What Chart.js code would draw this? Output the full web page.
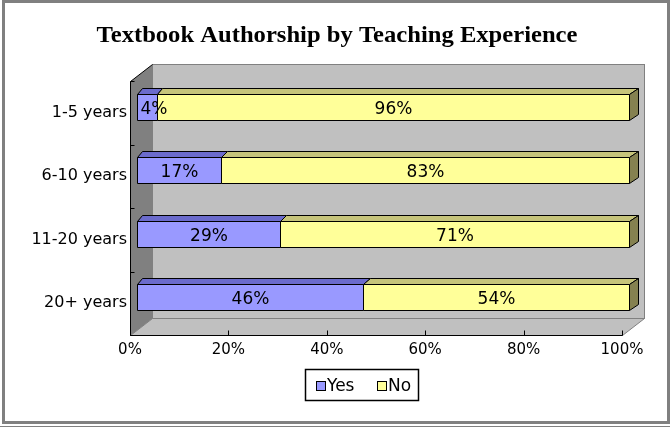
<!DOCTYPE html>
<html lang="en">
<head>
<meta charset="UTF-8">
<title>Textbook Authorship by Teaching Experience</title>
<script src="https://cdn.jsdelivr.net/npm/chart.js"></script>
<style>
  body { margin: 0; background: #fff; }
  .frame { position: absolute; left: 2px; top: 0; width: 668px; height: 424px; box-sizing: border-box; border: 3px solid #808080; }
  .rule { position: absolute; left: 0; top: 426px; width: 670px; height: 1px; background: #808080; }
  canvas { position: absolute; left: 0; top: 0; }
</style>
</head>
<body>
<div class="frame"></div>
<div class="rule"></div>
<canvas id="chart" width="670" height="427"></canvas>
<script>
  // data
  const chartTitle = 'Textbook Authorship by Teaching Experience';
  const categories = ['1-5 years', '6-10 years', '11-20 years', '20+ years'];
  const yesPct = [4, 17, 29, 46];
  const noPct = [96, 83, 71, 54];
  const seriesNames = ['Yes', 'No'];
  const tickStep = 20;

  // 3D look: wall depth, bar offset from the front axis plane, bar depth
  const wallDX = 22, wallDY = -17;
  const barDX = 7, barDY = -6;
  const faceDY = -6;
  const legendBox = { x: 305, y: 369, w: 113, h: 31, items: [316, 377] };

  const px = v => Math.round(v) + 0.5;

  function poly(ctx, pts, fill, stroke) {
    ctx.beginPath();
    ctx.moveTo(pts[0][0], pts[0][1]);
    for (let i = 1; i < pts.length; i++) ctx.lineTo(pts[i][0], pts[i][1]);
    ctx.closePath();
    if (fill) { ctx.fillStyle = fill; ctx.fill(); }
    if (stroke) { ctx.strokeStyle = stroke; ctx.lineWidth = 1; ctx.stroke(); }
  }

  // the reference title is a little wider than Liberation Serif
  function stretchedText(ctx, text, x, y, sx) {
    ctx.save();
    ctx.translate(x, y);
    ctx.scale(sx, 1);
    ctx.fillText(text, 0, 0);
    ctx.restore();
  }

  const threeD = {
    id: 'threeD',
    beforeDraw(chart) {
      const { ctx, chartArea: a } = chart;
      const L = px(a.left), R = px(a.right), T = px(a.top), B = px(a.bottom);
      ctx.save();
      // title
      ctx.font = 'bold 23px "Liberation Serif"';
      ctx.fillStyle = '#000';
      ctx.textAlign = 'center';
      ctx.textBaseline = 'alphabetic';
      stretchedText(ctx, chartTitle, 337, 42, 1.07);
      // back wall
      ctx.fillStyle = '#C0C0C0';
      ctx.fillRect(L + wallDX, T + wallDY, R - L, B - T);
      ctx.strokeStyle = '#808080';
      ctx.lineWidth = 1;
      ctx.strokeRect(L + wallDX, T + wallDY, R - L, B - T);
      // floor
      poly(ctx, [[L, B], [L + wallDX, B + wallDY], [R + wallDX, B + wallDY], [R, B]], '#C0C0C0', '#808080');
      // left wall
      poly(ctx, [[L, T], [L + wallDX, T + wallDY], [L + wallDX, B + wallDY], [L, B]], '#808080', null);
      ctx.strokeStyle = '#000';
      ctx.beginPath();
      ctx.moveTo(L, T);
      ctx.lineTo(L + wallDX, T + wallDY);
      ctx.stroke();
      ctx.restore();
    },
    beforeDatasetsDraw(chart) {
      const { ctx, chartArea: a } = chart;
      const dxAt = x => 5 + 3.5 * (x - a.left) / a.width;
      const sets = chart.data.datasets;
      const labels = [];
      ctx.save();
      categories.forEach((c, i) => {
        sets.forEach((ds, di) => {
          const bar = chart.getDatasetMeta(di).data[i];
          const p = bar.getProps(['x', 'y', 'base', 'height'], true);
          const L = px(Math.min(p.x, p.base) + barDX);
          const R = px(Math.max(p.x, p.base) + barDX);
          const T = px(p.y - p.height / 2 + barDY);
          const B = px(p.y + p.height / 2 + barDY);
          const dl = Math.round(dxAt(L)), dr = Math.round(dxAt(R));
          poly(ctx, [[L, T], [R, T], [R, B], [L, B]], ds.backgroundColor, '#000');
          poly(ctx, [[L, T], [L + dl, T + faceDY], [R + dr, T + faceDY], [R, T]], ds.topColor, '#000');
          if (di === sets.length - 1) {
            poly(ctx, [[R, T], [R + dr, T + faceDY], [R + dr, B + faceDY], [R, B]], ds.sideColor, '#000');
          }
          labels.push({ text: ds.data[i] + '%', L, R, y: (T + B) / 2 + 2 });
        });
      });
      // value labels on the front faces, after all bars
      ctx.font = '17px "DejaVu Sans"';
      ctx.fillStyle = '#000';
      ctx.textAlign = 'center';
      ctx.textBaseline = 'middle';
      labels.forEach(l => {
        const w = ctx.measureText(l.text).width;
        const cx = Math.max((l.L + l.R) / 2, l.L + 3 + w / 2);
        ctx.fillText(l.text, cx, l.y);
      });
      ctx.restore();
      return false;
    },
    afterDraw(chart) {
      const { ctx, chartArea: a, scales } = chart;
      const L = px(a.left), R = px(a.right), T = px(a.top), B = px(a.bottom);
      ctx.save();
      ctx.strokeStyle = '#000';
      ctx.lineWidth = 1;
      ctx.beginPath();
      ctx.moveTo(L, T);
      ctx.lineTo(L, B);
      ctx.lineTo(R, B);
      // x ticks point inward
      scales.x.ticks.forEach(t => {
        const x = px(scales.x.getPixelForValue(t.value));
        ctx.moveTo(x, B);
        ctx.lineTo(x, B - 5);
      });
      // y ticks on category boundaries
      const half = (scales.y.getPixelForValue(1) - scales.y.getPixelForValue(0)) / 2;
      for (let i = 0; i <= categories.length; i++) {
        const y = px(scales.y.getPixelForValue(i) - half);
        ctx.moveTo(L, y);
        ctx.lineTo(L + 4, y);
      }
      ctx.stroke();

      // legend
      const lb = legendBox;
      ctx.lineWidth = 1.5;
      ctx.strokeStyle = '#000';
      ctx.strokeRect(lb.x + 0.5, lb.y + 0.5, lb.w, lb.h);
      ctx.lineWidth = 1;
      ctx.font = '17px "DejaVu Sans"';
      ctx.textAlign = 'left';
      ctx.textBaseline = 'alphabetic';
      chart.data.datasets.forEach((ds, i) => {
        const x = lb.items[i];
        ctx.fillStyle = ds.backgroundColor;
        ctx.fillRect(x + 0.5, lb.y + 12.5, 9, 9);
        ctx.strokeRect(x + 0.5, lb.y + 12.5, 9, 9);
        ctx.fillStyle = '#000';
        ctx.fillText(ds.label, x + 11, lb.y + 22);
      });
      ctx.restore();
    }
  };

  const chart = new Chart(document.getElementById('chart'), {
    type: 'bar',
    data: {
      labels: categories,
      datasets: [
        { label: seriesNames[0], data: yesPct, backgroundColor: '#9999FF', topColor: '#6B6BCC', sideColor: '#6B6BCC', barThickness: 26 },
        { label: seriesNames[1], data: noPct, backgroundColor: '#FFFF99', topColor: '#C6C47B', sideColor: '#858150', barThickness: 26 }
      ]
    },
    options: {
      indexAxis: 'y',
      responsive: false,
      animation: false,
      devicePixelRatio: 1,
      layout: { padding: { left: 0, right: 48, top: 81, bottom: 62 } },
      plugins: {
        legend: { display: false },
        tooltip: { enabled: false },
        title: { display: false }
      },
      scales: {
        x: {
          stacked: true,
          min: 0,
          max: 100,
          ticks: {
            stepSize: tickStep,
            callback: v => v + '%',
            color: '#000',
            font: { family: 'DejaVu Sans', size: 15 },
            padding: 6,
            maxRotation: 0
          },
          grid: { display: false, drawTicks: false },
          border: { display: false },
          afterFit: s => { s.height = 30; }
        },
        y: {
          stacked: true,
          ticks: {
            color: '#000',
            font: { family: 'DejaVu Sans', size: 16 },
            padding: 3
          },
          grid: { display: false, drawTicks: false },
          border: { display: false },
          afterFit: s => { s.width = 130; }
        }
      }
    },
    plugins: [threeD]
  });
</script>
</body>
</html>
